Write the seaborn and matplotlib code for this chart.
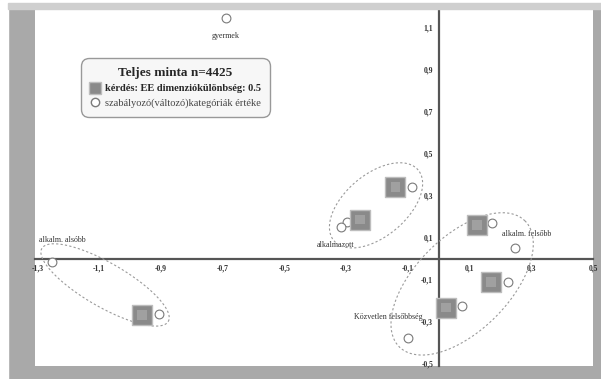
import numpy as np
import pandas as pd
import seaborn as sns
import matplotlib.pyplot as plt
from matplotlib.patches import Rectangle
from matplotlib.lines import Line2D

# gray squares: question categories
sq_x = [-0.141, -0.255, 0.124, 0.170, 0.024, -0.961]
sq_y = [0.343, 0.186, 0.162, -0.110, -0.233, -0.267]

# white circles: control variable categories
ci_x = [-0.689, -0.086, -0.297, -0.316, 0.173, 0.248, 0.225, 0.076, -0.099, -1.253, -0.906]
ci_y = [1.148, 0.343, 0.176, 0.152, 0.171, 0.052, -0.110, -0.224, -0.376, -0.014, -0.262]
ci_lab = ["gyermek", "", "", "alkalmazott", "", "alkalm. felsőbb", "", "", "Közvetlen felsőbbség", "alkalm. alsóbb", ""]

# cluster ellipses: center (data), semi axes (px), angle (deg on screen)
ell_cx = [-0.203, -1.081, 0.076]
ell_cy = [0.255, -0.124, -0.119]
ell_a = [55, 73, 89]
ell_b = [31, 22, 47]
ell_ang = [40, -30, 45]

xticks = [-1.3, -1.1, -0.9, -0.7, -0.5, -0.3, -0.1, 0.1, 0.3, 0.5]
yticks = [-0.5, -0.3, -0.1, 0.1, 0.3, 0.5, 0.7, 0.9, 1.1]

sns.set_style("white")
plt.rcParams['font.family'] = ['Liberation Serif', 'DejaVu Serif']

fig = plt.figure(figsize=(6.01, 3.79), dpi=100, facecolor='#a9a9a9')
fig.patches.append(Rectangle((0, 0), 8/601, 1, transform=fig.transFigure, color='white', zorder=0))
fig.patches.append(Rectangle((0, 1 - 3/379), 1, 3/379, transform=fig.transFigure, color='white', zorder=0))
fig.patches.append(Rectangle((8/601, 1 - 9/379), 1, 6/379, transform=fig.transFigure, color='#cfcfcf', zorder=0))

ax = fig.add_axes([35/601, 13/379, 558/601, 357/379])
ax.set_facecolor('white')
xlim = (-1.308, 0.5)
ylim = (-0.51, 1.19)
ax.set_xlim(xlim)
ax.set_ylim(ylim)

sq = pd.DataFrame({'x': sq_x, 'y': sq_y})
ci = pd.DataFrame({'x': ci_x, 'y': ci_y})

sns.scatterplot(data=ci, x='x', y='y', ax=ax, marker='o', s=40, color='white',
                edgecolor='#7a7a7a', linewidth=0.8, zorder=4)
sns.scatterplot(data=sq, x='x', y='y', ax=ax, marker='s', s=210, color='#8a8a8a',
                edgecolor='#bdbdbd', linewidth=1.0, zorder=5)
sns.scatterplot(data=sq, x='x', y='y', ax=ax, marker='s', s=45, color='#a0a0a0',
                edgecolor='none', linewidth=0, zorder=6)

offsets = {"gyermek": (0, -13, 'center'), "alkalmazott": (-4, -13, 'center'),
           "alkalm. felsőbb": (8, 10, 'center'), "Közvetlen felsőbbség": (-14, 15, 'center'),
           "alkalm. alsóbb": (-9, 16, 'left')}
for x, y, t in zip(ci_x, ci_y, ci_lab):
    if t:
        dx, dy, ha = offsets[t]
        ax.annotate(t, (x, y), xytext=(dx, dy), textcoords='offset points',
                    ha=ha, va='center', fontsize=5.8, color='#333333')

# ellipses, drawn in screen proportions
ppx = 558 / (xlim[1] - xlim[0])
ppy = 357 / (ylim[1] - ylim[0])
t = np.linspace(0, 2 * np.pi, 200)
for cx, cy, a, b, ang in zip(ell_cx, ell_cy, ell_a, ell_b, ell_ang):
    th = np.radians(ang)
    ex = a * np.cos(t) * np.cos(th) - b * np.sin(t) * np.sin(th)
    ey = a * np.cos(t) * np.sin(th) + b * np.sin(t) * np.cos(th)
    ax.plot(cx + ex / ppx, cy + ey / ppy, color='#9a9a9a', lw=0.8, ls=(0, (2, 2)), zorder=3)

# axes crossing at origin
for s in ['top', 'right']:
    ax.spines[s].set_visible(False)
ax.spines['left'].set_position(('data', 0))
ax.spines['bottom'].set_position(('data', 0))
for s in ['left', 'bottom']:
    ax.spines[s].set_color('#555555')
    ax.spines[s].set_linewidth(1.6)
ax.set_xticks(xticks)
ax.set_xticklabels([f"{v:.1f}".replace('.', ',') for v in xticks])
ax.set_yticks(yticks)
ax.set_yticklabels([f"{v:.1f}".replace('.', ',') for v in yticks])
ax.tick_params(direction='inout', length=4, width=0.8, colors='#333333', labelsize=5.5, pad=2)
for lab in ax.get_xticklabels() + ax.get_yticklabels():
    lab.set_fontweight('bold')
ax.set_xlabel('')
ax.set_ylabel('')

handles = [Line2D([], [], marker='s', ls='none', markersize=8, markerfacecolor='#8a8a8a', markeredgecolor='#bdbdbd'),
           Line2D([], [], marker='o', ls='none', markersize=6, markerfacecolor='white', markeredgecolor='#7a7a7a')]
leg = ax.legend(handles, ["kérdés: EE dimenziókülönbség: 0.5", "szabályozó(változó)kategóriák értéke"],
                title="Teljes minta n=4425", loc='upper left', bbox_to_anchor=(0.082, 0.863),
                fontsize=7.5, title_fontsize=9.5, frameon=True, fancybox=True, framealpha=1,
                edgecolor='#999999', facecolor='#f7f7f7', handletextpad=0.4, borderpad=0.9,
                labelspacing=0.45, handlelength=1.0, borderaxespad=0)
leg.get_title().set_fontweight('bold')
leg.get_texts()[0].set_fontweight('bold')
leg.get_texts()[1].set_color('#444444')
leg.get_frame().set_boxstyle('round,pad=0,rounding_size=0.8')

fig.savefig('out.png', dpi=100, facecolor=fig.get_facecolor())
